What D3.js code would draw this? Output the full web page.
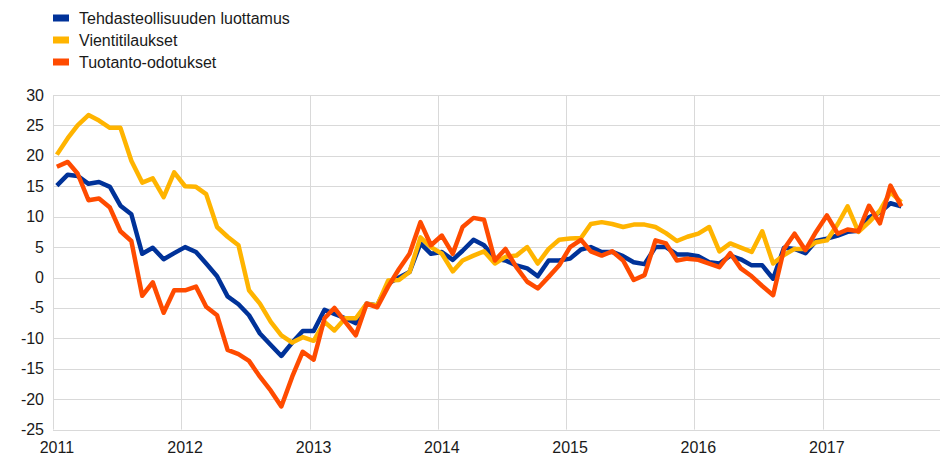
<!DOCTYPE html>
<html>
<head>
<meta charset="utf-8">
<script src="https://cdn.jsdelivr.net/npm/d3@7"></script>
<style>
  body { margin: 0; background: #fff; }
  text { font-family: "Liberation Sans", Arial, sans-serif; fill: #1a1a1a; }
</style>
</head>
<body>
<div class="chart"></div>
<script>
var svgWidth = 941;
var svgHeight = 456;

// monthly observations, Jan 2011 - Aug 2017
var months = d3.timeMonth.range(new Date(2011, 0, 1), new Date(2017, 8, 1));

var confidence = [15.1, 16.9, 16.7, 15.4, 15.7, 14.9, 11.8, 10.4, 3.9, 4.9, 3.0, 4.0,
  5.0, 4.2, 2.3, 0.2, -3.1, -4.4, -6.2, -9.2, -11.1, -12.9, -10.7, -8.8,
  -8.8, -5.3, -6.0, -6.7, -7.5, -4.3, -4.6, -1.0, 0.0, 0.9, 5.6, 3.9,
  4.2, 2.9, 4.4, 6.2, 5.3, 3.1, 2.8, 2.0, 1.5, 0.2, 2.8, 2.8,
  3.1, 4.6, 5.0, 4.2, 4.2, 3.5, 2.5, 2.2, 5.0, 5.0, 3.8, 3.8,
  3.5, 2.5, 2.3, 3.6, 3.0, 2.0, 2.0, -0.2, 4.9, 4.7, 4.0, 6.0,
  6.4, 6.9, 7.5, 7.7, 9.9, 10.7, 12.2, 11.7];

var exportOrders = [20.2, 22.9, 25.0, 26.7, 25.8, 24.6, 24.6, 19.2, 15.6, 16.3, 13.2, 17.3,
  15.0, 14.9, 13.7, 8.3, 6.7, 5.3, -2.1, -4.3, -7.3, -9.5, -10.7, -9.8,
  -10.4, -7.3, -8.7, -6.7, -6.7, -4.3, -4.6, -0.5, -0.4, 0.9, 6.6, 5.0,
  3.9, 1.0, 2.8, 3.6, 4.3, 2.3, 3.4, 3.6, 5.0, 2.3, 4.7, 6.2,
  6.4, 6.5, 8.8, 9.1, 8.8, 8.3, 8.7, 8.7, 8.3, 7.3, 6.0, 6.7,
  7.2, 8.3, 4.3, 5.6, 4.9, 4.2, 7.6, 2.3, 3.7, 4.7, 4.7, 5.8,
  6.1, 8.8, 11.7, 7.5, 9.1, 11.0, 14.0, 12.4];

var productionExp = [18.2, 19.0, 17.1, 12.7, 13.0, 11.5, 7.6, 6.0, -3.0, -0.8, -5.8, -2.1,
  -2.1, -1.5, -4.8, -6.2, -11.9, -12.6, -13.7, -16.3, -18.6, -21.2, -16.3, -12.2,
  -13.5, -6.7, -5.0, -7.3, -9.5, -4.3, -4.9, -1.5, 1.4, 3.9, 9.1, 5.3,
  6.9, 3.9, 8.3, 9.8, 9.5, 2.8, 4.7, 1.7, -0.7, -1.8, 0.1, 2.0,
  5.0, 6.2, 4.3, 3.6, 4.3, 2.8, -0.4, 0.4, 6.1, 5.6, 2.8, 3.1,
  2.9, 2.3, 1.7, 4.0, 1.5, 0.2, -1.4, -2.9, 4.7, 7.2, 4.5, 7.5,
  10.2, 7.2, 7.9, 7.6, 11.8, 8.9, 15.1, 11.7];

var seriesNames = ["Tehdasteollisuuden luottamus", "Vientitilaukset", "Tuotanto-odotukset"];
var seriesColors = ["#003299", "#ffb400", "#ff4b00"];
var yTicks = [30, 25, 20, 15, 10, 5, 0, -5, -10, -15, -20, -25];
var yearTicks = [2011, 2012, 2013, 2014, 2015, 2016, 2017];

var plot = { left: 53, right: 940, top: 95, bottom: 429.6 };

var svg = d3.select(".chart")
  .append("svg")
  .attr("width", svgWidth)
  .attr("height", svgHeight);

// x: year boundaries on the gridlines, monthly points a bit inside each month
var xScale = d3.scaleTime()
  .domain([new Date(2011, 0, 1), new Date(2017, 0, 1)])
  .range([53, 823]);

var yScale = d3.scaleLinear()
  .domain([-25, 30])
  .range([plot.bottom, plot.top]);

var pointDate = d => d3.timeDay.offset(d, 11);

// horizontal gridlines
svg.append("g")
  .selectAll("line")
  .data(yTicks)
  .enter()
  .append("line")
  .attr("x1", plot.left)
  .attr("x2", plot.right)
  .attr("y1", d => Math.round(yScale(d)) + 0.5)
  .attr("y2", d => Math.round(yScale(d)) + 0.5)
  .attr("stroke", "#d9d9d9")
  .attr("stroke-width", 1);

// vertical gridlines at year starts
svg.append("g")
  .selectAll("line")
  .data(yearTicks)
  .enter()
  .append("line")
  .attr("x1", d => Math.round(xScale(new Date(d, 0, 1))) + 0.5)
  .attr("x2", d => Math.round(xScale(new Date(d, 0, 1))) + 0.5)
  .attr("y1", plot.top)
  .attr("y2", plot.bottom)
  .attr("stroke", "#d9d9d9")
  .attr("stroke-width", 1);

// y tick labels
svg.append("g")
  .selectAll("text")
  .data(yTicks)
  .enter()
  .append("text")
  .attr("x", 44)
  .attr("y", d => yScale(d) + 5.5)
  .attr("text-anchor", "end")
  .style("font-size", "16px")
  .text(d => d);

// x tick labels, centred on the January point
svg.append("g")
  .selectAll("text")
  .data(yearTicks)
  .enter()
  .append("text")
  .attr("x", d => xScale(pointDate(new Date(d, 0, 1))))
  .attr("y", 453)
  .attr("text-anchor", "middle")
  .style("font-size", "16px")
  .text(d => d);

// lines
var allSeries = [confidence, exportOrders, productionExp];

var line = d3.line()
  .x((d, i) => xScale(pointDate(months[i])))
  .y(d => yScale(d));

svg.append("g")
  .selectAll("path")
  .data(allSeries)
  .enter()
  .append("path")
  .attr("d", d => line(d))
  .attr("fill", "none")
  .attr("stroke", (d, i) => seriesColors[i])
  .attr("stroke-width", 4.5)
  .attr("stroke-linejoin", "round");

// legend
var legend = svg.append("g")
  .selectAll("g")
  .data(seriesNames)
  .enter()
  .append("g")
  .attr("transform", (d, i) => `translate(53, ${18 + i * 22})`);

legend.append("rect")
  .attr("x", 0)
  .attr("y", -3.5)
  .attr("width", 16)
  .attr("height", 7)
  .attr("fill", (d, i) => seriesColors[i]);

legend.append("text")
  .attr("x", 26)
  .attr("y", 5.5)
  .style("font-size", "16px")
  .text(d => d);
</script>
</body>
</html>
